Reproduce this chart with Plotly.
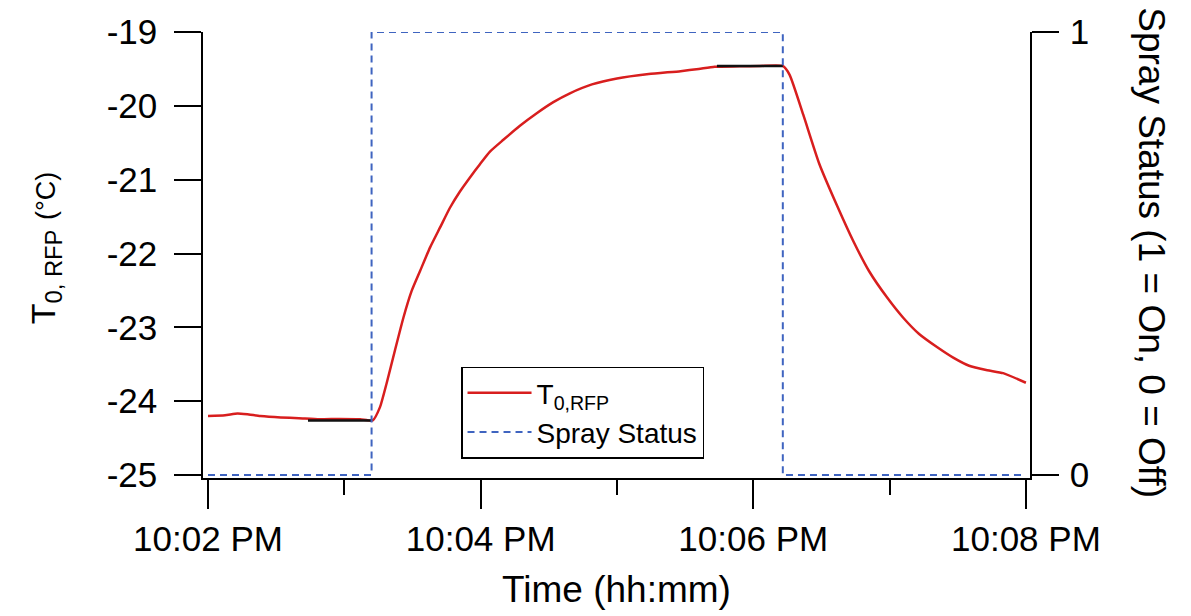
import plotly.graph_objects as go

DATE = "2000-01-01 "

# Temperature T0,RFP (°C) vs time
temp_time = ["22:02:00", "22:02:07.5", "22:02:13", "22:02:18", "22:02:23", "22:02:32",
             "22:02:40", "22:02:49", "22:02:58", "22:03:07", "22:03:12.5", "22:03:15.7",
             "22:03:18.6", "22:03:22.3", "22:03:26", "22:03:29.6", "22:03:33.3", "22:03:37.7",
             "22:03:42.1", "22:03:46.5", "22:03:50.9", "22:03:55.3", "22:03:59.7", "22:04:04.1",
             "22:04:10", "22:04:17.3", "22:04:24.7", "22:04:32", "22:04:39.3", "22:04:49",
             "22:05:00", "22:05:14", "22:05:28", "22:05:36", "22:05:43",
             "22:05:54", "22:06:03", "22:06:13", "22:06:16", "22:06:22", "22:06:29",
             "22:06:37", "22:06:44", "22:06:51", "22:06:59", "22:07:06", "22:07:13",
             "22:07:21", "22:07:28", "22:07:35", "22:07:43", "22:07:50", "22:08:00"]
temp_value = [-24.20, -24.19, -24.165, -24.18, -24.20, -24.22,
              -24.23, -24.245, -24.24, -24.245, -24.26, -24.08,
              -23.76, -23.31, -22.87, -22.51, -22.24, -21.92,
              -21.65, -21.38, -21.16, -20.97, -20.79, -20.62,
              -20.46, -20.27, -20.10, -19.95, -19.83, -19.71,
              -19.63, -19.57, -19.53, -19.50, -19.47,
              -19.465, -19.46, -19.46, -19.58, -20.12, -20.78,
              -21.36, -21.83, -22.24, -22.60, -22.87, -23.09,
              -23.27, -23.41, -23.52, -23.58, -23.62, -23.75]

# Averaging windows (black segments)
avg_time = ["22:02:44", "22:03:12", None, "22:05:44", "22:06:13"]
avg_value = [-24.26, -24.26, None, -19.46, -19.46]

# Spray status
spray_time = ["22:02:00", "22:03:12", "22:06:13", "22:08:00"]
spray_state = [0, 1, 0, 0]

x_ticks = ["22:02:00", "22:04:00", "22:06:00", "22:08:00"]
y_ticks = [-25, -24, -23, -22, -21, -20, -19]
y_tick_labels = ["-25", "-24", "-23", "-22", "-21", "-20", "-19"]
y2_ticks = [0, 1]

FONT = "Arial, 'Liberation Sans', sans-serif"


def ts(lst):
    return [None if t is None else DATE + t for t in lst]


fig = go.Figure()
fig.add_trace(go.Scatter(
    x=ts(temp_time), y=temp_value, mode="lines", name="T<sub>0,RFP</sub>",
    line=dict(color="#d81e1e", width=2.5, shape="spline", smoothing=0.5)))
fig.add_trace(go.Scatter(
    x=ts(avg_time), y=avg_value, mode="lines", showlegend=False,
    connectgaps=False, line=dict(color="#111111", width=2.5)))
fig.add_trace(go.Scatter(
    x=ts(spray_time), y=spray_state, mode="lines", name="Spray Status",
    yaxis="y2", line=dict(color="#3f64c0", width=2, dash="7px,5px", shape="hv")))

fig.update_layout(
    width=1191, height=616,
    margin=dict(l=203, r=161, t=30, b=138),
    paper_bgcolor="white", plot_bgcolor="white",
    font=dict(family=FONT, color="black", size=35),
    showlegend=True,
    legend=dict(x=0.312, y=0.25, xanchor="left", yanchor="top",
                bgcolor="white", bordercolor="black", borderwidth=1.5,
                font=dict(size=28), itemwidth=64, tracegroupgap=0),
    xaxis=dict(
        type="date",
        range=[DATE + "22:01:57.8", DATE + "22:08:01.8"],
        tickvals=ts(x_ticks), tickformat="%-I:%M %p",
        showline=True, linecolor="black", linewidth=1.5,
        ticks="outside", ticklen=29, tickwidth=1.5, tickcolor="black",
        minor=dict(dtick=60000, ticks="outside", ticklen=15, tickwidth=1.5,
                   tickcolor="black", showgrid=False),
        showgrid=False, zeroline=False,
        tickfont=dict(size=35),
        title=dict(text="Time (hh:mm)", font=dict(size=37), standoff=19),
    ),
    yaxis=dict(
        range=[-25.04, -19], tickvals=y_ticks, ticktext=y_tick_labels,
        showline=True, linecolor="black", linewidth=1.5,
        ticks="outside", ticklen=27, tickwidth=1.5, tickcolor="black",
        ticklabelstandoff=10,
        showgrid=False, zeroline=False, tickfont=dict(size=35),
    ),
    yaxis2=dict(
        overlaying="y", side="right", anchor="x",
        range=[-0.00674, 1], tickvals=y2_ticks,
        showline=True, linecolor="black", linewidth=1.5,
        ticks="outside", ticklen=27, tickwidth=1.5, tickcolor="black",
        ticklabelstandoff=4,
        showgrid=False, zeroline=False, tickfont=dict(size=35),
    ),
    annotations=[
        dict(text="T<sub>0, RFP</sub> <span style='font-size:27px'>(°C)</span>",
             textangle=-90, xref="paper", yref="paper", x=-0.191, y=0.515,
             xanchor="center", yanchor="middle", showarrow=False,
             font=dict(size=34)),
        dict(text="Spray Status (1 = On, 0 = Off)", textangle=90,
             xref="paper", yref="paper", x=1.1475, y=0.504,
             xanchor="center", yanchor="middle", showarrow=False,
             font=dict(size=37)),
    ],
)

fig.write_html("out.html")
